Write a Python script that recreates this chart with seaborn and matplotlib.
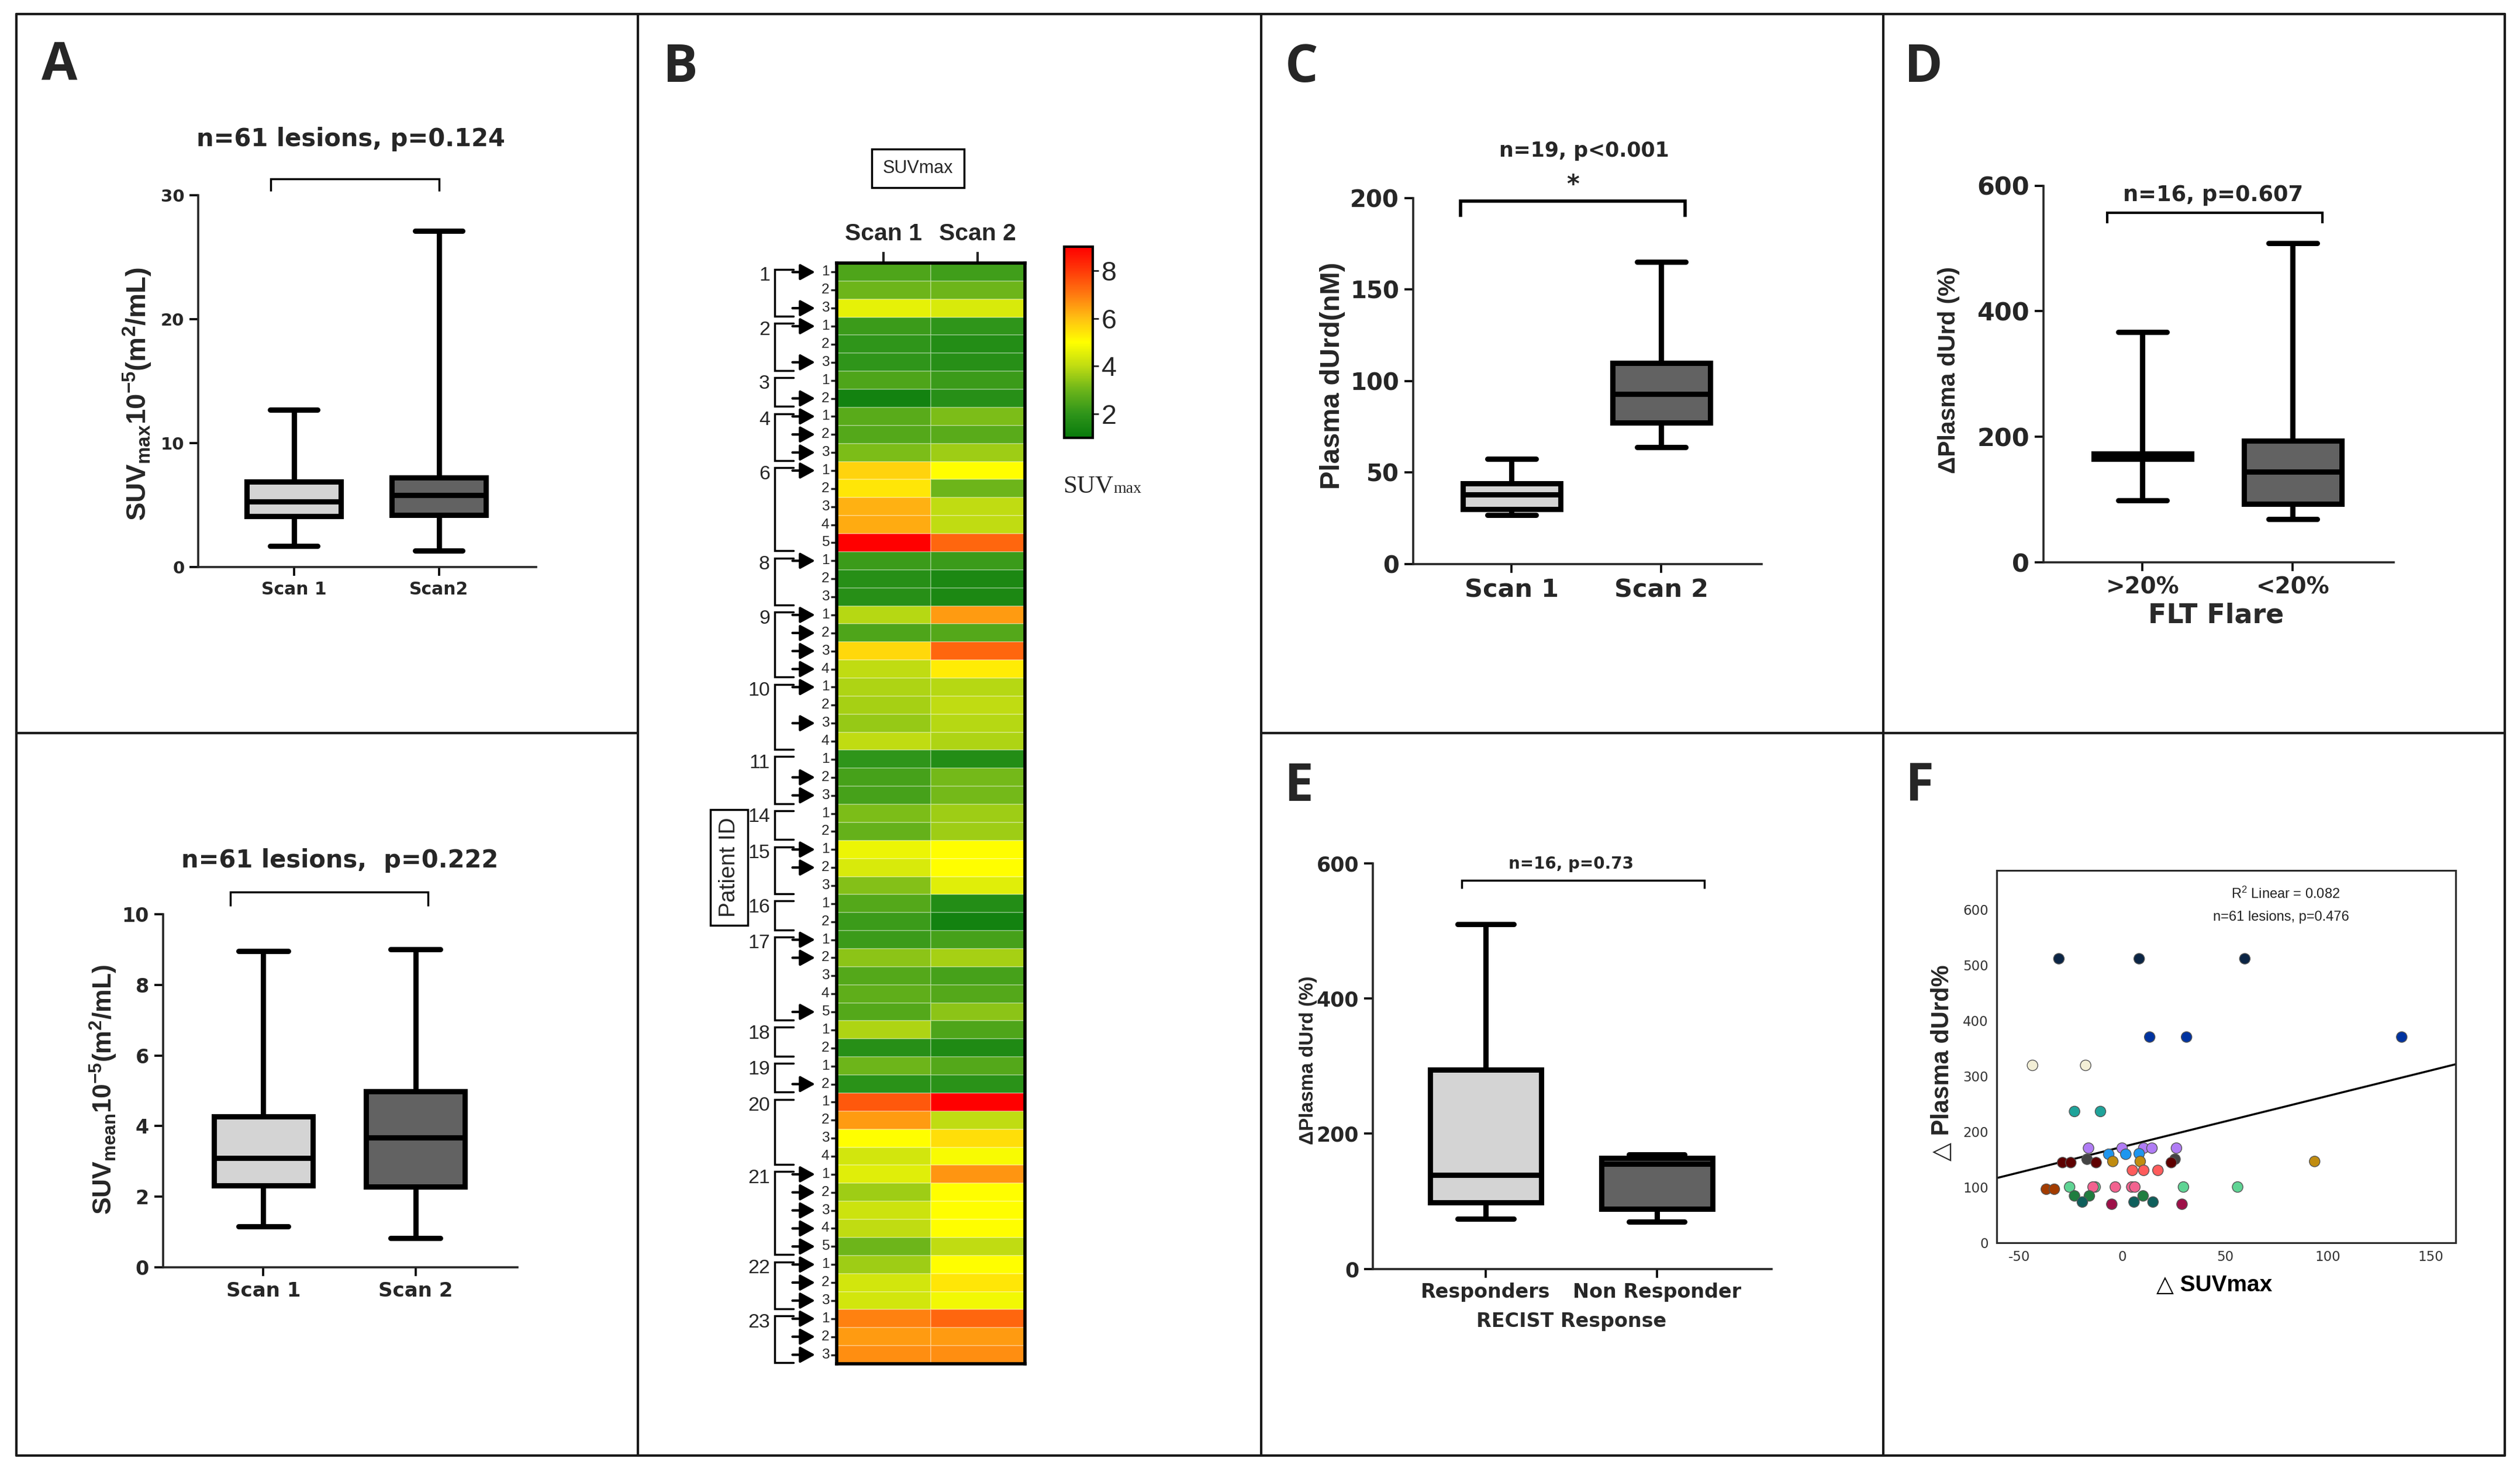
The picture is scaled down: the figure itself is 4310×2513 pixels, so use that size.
import numpy as np
import pandas as pd
import matplotlib
matplotlib.use("Agg")
import matplotlib.pyplot as plt
import matplotlib.font_manager as fm
from matplotlib.colors import LinearSegmentedColormap
from matplotlib.lines import Line2D
import seaborn as sns

# ---------------- data ----------------
# five-number summaries: min, Q1, median, Q3, max
suvmax_scan1 = [1.7, 4.1, 5.3, 6.9, 12.7]
suvmax_scan2 = [1.3, 4.2, 5.8, 7.2, 27.1]
suvmean_scan1 = [1.16, 2.32, 3.09, 4.27, 8.96]
suvmean_scan2 = [0.83, 2.29, 3.67, 4.99, 9.01]
durd_scan1 = [26.7, 30.0, 37.8, 44.0, 57.3]
durd_scan2 = [63.8, 77.1, 93.0, 109.8, 165.0]
flare_above20 = [99, 165, 169, 173, 367]
flare_below20 = [69, 93, 144, 194, 508]
recist_responders = [74, 98, 139, 295, 510]
recist_nonresponders = [70, 89, 155, 164, 169]

scan_labels = ["Scan 1", "Scan 2"]
scan_labels_a = ["Scan 1", "Scan2"]
flare_labels = [">20%", "<20%"]
recist_labels = ["Responders", "Non Responder"]

# heatmap (panel B)
patient_ids = [1, 2, 3, 4, 6, 8, 9, 10, 11, 14, 15, 16, 17, 18, 19, 20, 21, 22, 23]
lesion_counts = [3, 3, 2, 3, 5, 3, 4, 4, 3, 2, 3, 2, 5, 2, 2, 4, 5, 3, 3]
arrow_lesions = [[1, 3], [1, 3], [2], [1, 2, 3], [1], [1], [1, 2, 3, 4], [1, 3],
                 [2, 3], [], [1, 2], [], [1, 2, 5], [], [2], [],
                 [1, 2, 3, 4, 5], [1, 2, 3], [1, 2, 3]]
scan1_suv = [2.5, 3.0, 4.6,
             2.2, 2.0, 2.0,
             2.5, 1.3,
             2.7, 2.6, 3.2,
             5.7, 5.4, 6.2, 6.3, 9.0,
             2.2, 1.8, 1.8,
             3.9, 2.5, 5.6, 4.0,
             3.8, 3.7, 3.5, 4.0,
             2.0, 2.4, 2.4,
             3.2, 2.9,
             4.7, 4.4, 3.3,
             2.6, 2.2,
             2.2, 3.4, 2.6, 2.8, 2.6,
             3.8, 1.8,
             3.0, 1.9,
             7.5, 6.5, 5.0, 4.3,
             4.5, 3.6, 4.2, 4.0, 3.0,
             3.6, 4.3, 4.3,
             6.9, 6.5, 6.7]
scan2_suv = [2.3, 3.0, 4.4,
             2.0, 1.7, 1.8,
             2.2, 1.8,
             3.2, 2.7, 3.6,
             5.0, 3.0, 4.0, 4.0, 7.3,
             2.2, 1.5, 1.5,
             6.5, 2.6, 7.3, 5.3,
             3.9, 4.0, 3.9, 3.8,
             1.7, 3.1, 3.1,
             3.6, 3.6,
             5.0, 5.0, 4.5,
             1.7, 1.3,
             2.4, 3.7, 2.4, 2.6, 3.4,
             2.5, 1.6,
             2.6, 1.9,
             9.0, 4.0, 5.5, 4.9,
             6.6, 5.0, 5.0, 5.0, 4.0,
             5.0, 5.4, 4.8,
             7.3, 6.5, 6.7]

# scatter (panel F)
delta_suvmax = [-30.7, 8.3, 59.6, 13.4, 31.3, 135.8, -43.5, -17.7, -23.1, -10.5,
                -16.3, 0.0, 10.5, 14.5, 26.4, -6.5, 1.8, 8.3, -17.0, 25.7,
                -28.9, -24.9, -12.6, 23.9, -4.5, 8.8, 93.5, 5.0, 10.5, 17.4,
                -36.8, -32.9, -25.5, -13.1, 29.8, 56.1, -14.1, -3.3, 4.7, 6.2,
                -23.1, -15.9, 10.2, -19.3, 5.8, 15.0, -5.0, 29.1]
delta_durd = [511, 511, 511, 370, 370, 370, 319, 319, 236, 236,
              170, 170, 170, 170, 170, 159, 159, 160, 150, 150,
              144, 144, 144, 144, 146, 146, 146, 130, 130, 130,
              96, 96, 100, 100, 100, 100, 100, 100, 100, 100,
              84, 84, 84, 73, 73, 73, 69, 69]
point_patient = ["p1", "p1", "p1", "p2", "p2", "p2", "p3", "p3", "p4", "p4",
                 "p5", "p5", "p5", "p5", "p5", "p6", "p6", "p6", "p7", "p7",
                 "p8", "p8", "p8", "p8", "p9", "p9", "p9", "p10", "p10", "p10",
                 "p11", "p11", "p12", "p12", "p12", "p12", "p13", "p13", "p13", "p13",
                 "p14", "p14", "p14", "p15", "p15", "p15", "p16", "p16"]
fit_x = [-61, 162]
fit_y = [116, 321]

# ---------------- style ----------------
sns.set_style("ticks")
plt.rcParams["font.family"] = ["DejaVu Sans"]
plt.rcParams["axes.unicode_minus"] = False
plt.rcParams["mathtext.fontset"] = "custom"
plt.rcParams["mathtext.rm"] = "Liberation Sans"
plt.rcParams["mathtext.bf"] = "Liberation Sans:bold"
plt.rcParams["mathtext.it"] = "Liberation Sans:italic"

installed = {f.name for f in fm.fontManager.ttflist}
NARROW = "Liberation Sans Narrow" if "Liberation Sans Narrow" in installed else "Liberation Sans"
NS = 1.0 if NARROW == "Liberation Sans Narrow" else 0.84
ARIAL = ["Liberation Sans", "DejaVu Sans"]
WIDE = "DejaVu Sans"

LIGHT = "#d4d4d4"
DARK = "#626262"
scatter_colors = {"p1": "#0b2545", "p2": "#0033a0", "p3": "#f3efd6", "p4": "#1fa39a",
                  "p5": "#b07cf5", "p6": "#1e96ef", "p7": "#444444", "p8": "#5e0000",
                  "p9": "#c08c10", "p10": "#ff5c5c", "p11": "#a33c00", "p12": "#5fd494",
                  "p13": "#f2628f", "p14": "#1f7d3f", "p15": "#0f5f5c", "p16": "#9e1048"}
suv_cmap = LinearSegmentedColormap.from_list(
    "suv", [(0.0, "#087a0c"), (0.125, "#2f951a"), (0.25, "#6cb51a"), (0.375, "#bfdc12"),
            (0.5, "#ffff00"), (0.625, "#ffc012"), (0.75, "#ff7a10"), (0.875, "#ff3a08"),
            (1.0, "#ff0000")])

W, H = 4310, 2513
fig = plt.figure(figsize=(W / 100, H / 100), dpi=100)


def px_rect(l, t, r, b):
    return [l / W, 1 - b / H, (r - l) / W, (b - t) / H]


def fx(x):
    return x / W


def fy(y):
    return 1 - y / H


# panel frames
frame = dict(color="#1a1a1a", lw=3, transform=fig.transFigure)
for xs, ys in [([28, 4284], [24, 24]), ([28, 4284], [2490, 2490]),
               ([28, 28], [24, 2490]), ([4284, 4284], [24, 2490]),
               ([1091, 1091], [24, 2490]), ([2157, 2157], [24, 2490]),
               ([3221, 3221], [24, 2490]), ([28, 1091], [1254, 1254]),
               ([2157, 4284], [1254, 1254])]:
    fig.add_artist(Line2D([fx(v) for v in xs], [fy(v) for v in ys], **frame))

for lab, x, y in [("A", 102, 112), ("B", 1164, 117), ("C", 2226, 117),
                  ("D", 3290, 117), ("E", 2222, 1347), ("F", 3283, 1347)]:
    fig.text(fx(x), fy(y), lab, fontsize=64, fontweight="bold",
             family=["Open Sans", "DejaVu Sans"], ha="center", va="center")


def box_panel(ax, labels, summaries, ylim, yticks, xsize, ysize, lw=6.5, spine=2.6):
    groups = [lab for lab, s in zip(labels, summaries) for _ in s]
    values = [v for s in summaries for v in s]
    sns.boxplot(x=groups, y=values, hue=groups, palette=[LIGHT, DARK], saturation=1,
                whis=(0, 100), width=0.65, linewidth=lw, linecolor="black",
                fliersize=0, legend=False, ax=ax)
    ax.set_xlim(-0.66, 1.67)
    ax.set_ylim(*ylim)
    ax.set_yticks(yticks)
    sns.despine(ax=ax)
    for s in ax.spines.values():
        s.set_linewidth(spine)
    ax.tick_params(axis="both", width=spine, length=11, color="black", pad=6)
    ax.tick_params(axis="x", labelsize=xsize)
    ax.tick_params(axis="y", labelsize=ysize)
    for t in ax.get_xticklabels() + ax.get_yticklabels():
        t.set_fontweight("bold")
        t.set_fontfamily(WIDE)
    ax.set_xlabel("")
    ax.set_ylabel("")


def bracket(ax, x0, x1, y, drop, lw):
    ax.plot([x0, x0, x1, x1], [y - drop, y, y, y - drop], color="black", lw=lw,
            clip_on=False, solid_joinstyle="miter", solid_capstyle="butt")


def ylab(ax, text, x, y, size, family=ARIAL, weight="bold"):
    ax.set_ylabel(text, fontsize=size, fontweight=weight, family=family, va="center")
    ax.yaxis.set_label_coords(x, y)


def xlab(ax, text, x, y, size, family=WIDE, color="#2a2a2a"):
    ax.set_xlabel(text, fontsize=size, fontweight="bold", family=family, va="center",
                  color=color)
    ax.xaxis.set_label_coords(x, y)


# ---------------- panel A (top) ----------------
ax = fig.add_axes(px_rect(339, 333.6, 917, 970))
box_panel(ax, scan_labels_a, [suvmax_scan1, suvmax_scan2], (0, 30), [0, 10, 20, 30], 21.5, 21)
bracket(ax, -0.16, 1.0, 31.3, 1.0, 2.5)
ax.text(0.39, 34.5, "n=61 lesions, p=0.124", ha="center", va="center", fontsize=30,
        fontweight="bold", family=WIDE, clip_on=False)
ylab(ax, r"SUV$_{\mathbf{max}}$10$^{\mathbf{-5}}$(m$^{\mathbf{2}}$/mL)", -0.18, 0.466, 34)

# ---------------- panel A (bottom) ----------------
ax = fig.add_axes(px_rect(278.5, 1564, 885, 2168))
box_panel(ax, scan_labels, [suvmean_scan1, suvmean_scan2], (0, 10), [0, 2, 4, 6, 8, 10], 24.5, 24)
bracket(ax, -0.218, 1.084, 10.63, 0.4, 2.5)
ax.text(0.504, 11.53, "n=61 lesions,  p=0.222", ha="center", va="center", fontsize=30,
        fontweight="bold", family=WIDE, clip_on=False)
ylab(ax, r"SUV$_{\mathbf{mean}}$10$^{\mathbf{-5}}$(m$^{\mathbf{2}}$/mL)", -0.167, 0.503, 32)

# ---------------- panel C ----------------
ax = fig.add_axes(px_rect(2416.5, 339, 3013, 964.6))
box_panel(ax, scan_labels, [durd_scan1, durd_scan2], (0, 200), [0, 50, 100, 150, 200], 31, 29)
bracket(ax, -0.34, 1.16, 198.5, 8.8, 4)
ax.text(0.41, 207, "*", ha="center", va="center", fontsize=30, fontweight="bold",
        family=WIDE, clip_on=False)
ax.text(0.485, 226, "n=19, p<0.001", ha="center", va="center", fontsize=25,
        fontweight="bold", family=WIDE, clip_on=False)
ylab(ax, "Plasma dUrd(nM)", -0.23, 0.514, 34)

# ---------------- panel D ----------------
ax = fig.add_axes(px_rect(3494.6, 317.5, 4093.8, 962))
box_panel(ax, flare_labels, [flare_above20, flare_below20], (0, 600), [0, 200, 400, 600], 28, 31)
bracket(ax, -0.235, 1.197, 557, 17, 3)
ax.text(0.47, 585, "n=16, p=0.607", ha="center", va="center", fontsize=26.5,
        fontweight="bold", family=WIDE, clip_on=False)
ylab(ax, "ΔPlasma dUrd (%)", -0.27, 0.51, 35 * NS, family=[NARROW, "DejaVu Sans"])
xlab(ax, "FLT Flare", 0.493, -0.141, 33)

# ---------------- panel E ----------------
ax = fig.add_axes(px_rect(2347.7, 1477, 3030, 2170.7))
box_panel(ax, recist_labels, [recist_responders, recist_nonresponders], (0, 600),
          [0, 200, 400, 600], 24, 25)
bracket(ax, -0.14, 1.277, 575, 12, 2.5)
ax.text(0.5, 599, "n=16, p=0.73", ha="center", va="center", fontsize=20,
        fontweight="bold", family=WIDE, clip_on=False)
ylab(ax, "ΔPlasma dUrd (%)", -0.162, 0.514, 28.5 * NS, family=[NARROW, "DejaVu Sans"])
xlab(ax, "RECIST Response", 0.4975, -0.13, 24)

# ---------------- panel F ----------------
ax = fig.add_axes(px_rect(3414.6, 1489, 4200, 2125.6))
sns.scatterplot(x=delta_suvmax, y=delta_durd, hue=point_patient, palette=scatter_colors,
                s=170, edgecolor="#555555", linewidth=1, legend=False, ax=ax, zorder=3)
sns.lineplot(x=fit_x, y=fit_y, color="black", lw=2.5, ax=ax, zorder=2)
ax.set_xlim(-61, 162)
ax.set_ylim(0, 670)
ax.set_xticks([-50, 0, 50, 100, 150])
ax.set_yticks([0, 100, 200, 300, 400, 500, 600])
for s in ax.spines.values():
    s.set_linewidth(2.2)
    s.set_color("#2a2a2a")
ax.tick_params(axis="both", length=0, pad=10, labelsize=16.5, labelcolor="#333333")
ax.text(0.63, 0.936, r"R$^2$ Linear = 0.082", transform=ax.transAxes, ha="center",
        va="center", fontsize=17, family=ARIAL, color="#222222")
ax.text(0.62, 0.874, "n=61 lesions, p=0.476", transform=ax.transAxes, ha="center",
        va="center", fontsize=17, family=ARIAL, color="#222222")
ylab(ax, "△ Plasma dUrd%", -0.1186, 0.483, 30)
xlab(ax, "△ SUVmax", 0.474, -0.115, 28, family=ARIAL, color="black")

# ---------------- panel B (heatmap) ----------------
ax = fig.add_axes(px_rect(1431, 450, 1752.5, 2333))
cax = fig.add_axes(px_rect(1820, 422, 1869, 749))
lesion_labels = [str(k) for n in lesion_counts for k in range(1, n + 1)]
suv_table = pd.DataFrame({"Scan 1": scan1_suv, "Scan 2": scan2_suv})
sns.heatmap(suv_table, cmap=suv_cmap, vmin=1, vmax=9, ax=ax, cbar_ax=cax,
            cbar_kws={"ticks": [2, 4, 6, 8]}, linewidths=1.2,
            linecolor=(1, 1, 1, 0.28), xticklabels=["Scan 1", "Scan 2"],
            yticklabels=lesion_labels)
for s in ax.spines.values():
    s.set_visible(True)
    s.set_linewidth(4)
    s.set_color("black")
ax.xaxis.tick_top()
ax.tick_params(axis="x", top=True, bottom=False, length=14, width=3, pad=8,
               labelsize=35 * NS)
ax.tick_params(axis="y", length=7, width=2.5, pad=2, labelsize=21 * NS)
for t in ax.get_xticklabels():
    t.set_fontweight("bold")
    t.set_fontfamily(NARROW)
for t in ax.get_yticklabels():
    t.set_fontfamily(NARROW)
    t.set_rotation(0)
ax.set_xlabel("")
ax.set_ylabel("")

cbar = ax.collections[0].colorbar
cbar.outline.set_linewidth(3)
cbar.outline.set_edgecolor("black")
cax.tick_params(length=7, width=2, labelsize=40 * NS)
for t in cax.get_yticklabels():
    t.set_fontfamily(NARROW)

starts = np.cumsum([0] + lesion_counts[:-1])
for pid, first, n, arrows in zip(patient_ids, starts, lesion_counts, arrow_lesions):
    top = first + 0.35
    bottom = first + n - 0.05
    ax.plot([-0.46, -0.66, -0.66, -0.46], [top, top, bottom, bottom], color="black",
            lw=2.5, clip_on=False, solid_joinstyle="miter")
    ax.text(-0.71, first + 0.7, str(pid), ha="right", va="center", fontsize=29 * NS,
            family=NARROW, clip_on=False)
    for k in arrows:
        yrow = first + k - 0.5
        ax.annotate("", xy=(-0.23, yrow), xytext=(-0.47, yrow), annotation_clip=False,
                    arrowprops=dict(arrowstyle="-|>,head_length=0.55,head_width=0.3",
                                    mutation_scale=28, color="black", lw=3,
                                    shrinkA=0, shrinkB=0))

fig.text(fx(1570), fy(288), "SUVmax", ha="center", va="center", fontsize=22,
         family=NARROW,
         bbox=dict(boxstyle="square,pad=0.6", facecolor="white", edgecolor="black", lw=2.5))
fig.text(fx(1247), fy(1484), "Patient ID", ha="center", va="center", rotation=90,
         fontsize=28, family=ARIAL,
         bbox=dict(boxstyle="square,pad=0.35", facecolor="white", edgecolor="black", lw=2.5))
suv_word = fig.text(fx(1818), fy(832), "SUV", ha="left", va="center", fontsize=31,
                    family=["Liberation Serif", "DejaVu Serif"])
ax.annotate("max", xy=(1.0, 0.05), xycoords=suv_word, ha="left", va="bottom",
            fontsize=20, family=["Liberation Serif", "DejaVu Serif"])

fig.savefig("out.png", dpi=100)
